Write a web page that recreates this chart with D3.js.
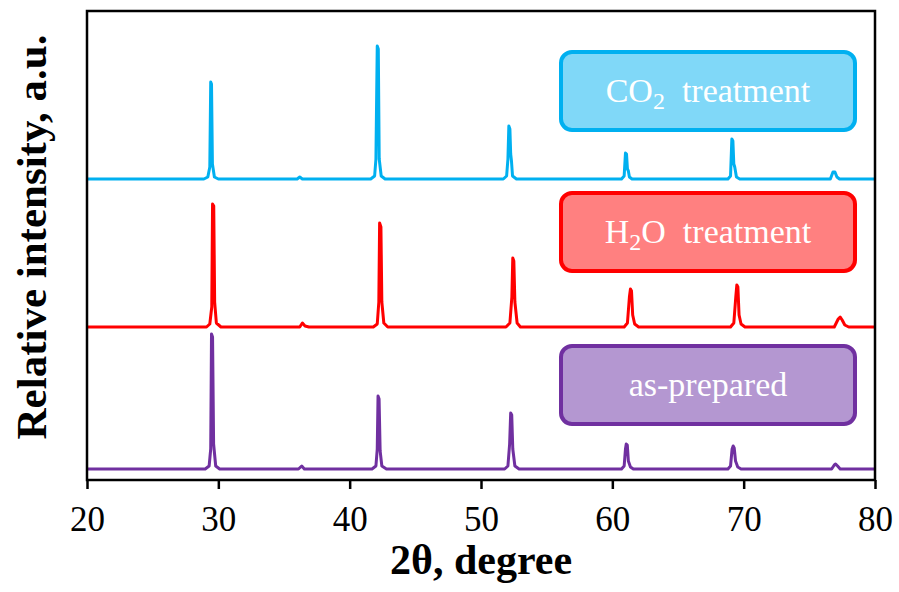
<!DOCTYPE html>
<html>
<head>
<meta charset="utf-8">
<script src="https://cdn.jsdelivr.net/npm/d3@7"></script>
<style>
  body { margin: 0; background: #fff; }
  text { font-family: "Liberation Serif", "Times New Roman", serif; }
</style>
</head>
<body>
<div id="wrapper"></div>
<script>
// XRD patterns, [2theta, intensity above own baseline]
const co2Pattern = [
  [20, 0], [28.9, 0], [29.2, 2], [29.35, 12], [29.42, 97], [29.48, 95], [29.55, 15], [29.7, 2], [30.0, 0],
  [36.0, 0], [36.2, 2], [36.4, 0],
  [41.6, 0], [41.9, 3], [42.0, 20], [42.1, 133], [42.18, 130], [42.25, 20], [42.4, 3], [42.7, 0],
  [51.7, 0], [51.95, 3], [52.05, 20], [52.12, 53], [52.2, 50], [52.26, 25], [52.32, 18], [52.4, 3], [52.7, 0],
  [60.7, 0], [60.9, 3], [61.0, 26], [61.08, 25], [61.15, 10], [61.22, 8], [61.3, 2], [61.5, 0],
  [68.8, 0], [69.0, 3], [69.1, 40], [69.18, 38], [69.25, 15], [69.32, 12], [69.45, 2], [69.7, 0],
  [76.6, 0], [76.8, 7], [76.95, 7], [77.1, 2], [77.3, 0],
  [80, 0]
]
const h2oPattern = [
  [20, 0], [29.1, 0], [29.35, 3], [29.5, 20], [29.56, 123], [29.65, 121], [29.72, 25], [29.85, 4], [30.2, 0],
  [36.2, 0], [36.4, 4], [36.6, 1], [36.9, 0],
  [41.8, 0], [42.1, 3], [42.22, 25], [42.28, 104], [42.38, 100], [42.45, 25], [42.6, 4], [42.9, 0],
  [51.9, 0], [52.2, 4], [52.35, 30], [52.42, 69], [52.5, 66], [52.58, 25], [52.75, 4], [53.0, 0],
  [60.9, 0], [61.15, 4], [61.3, 30], [61.38, 38], [61.46, 36], [61.55, 12], [61.7, 3], [62.0, 0],
  [69.0, 0], [69.25, 4], [69.4, 30], [69.48, 42], [69.56, 40], [69.65, 12], [69.8, 3], [70.1, 0],
  [76.9, 0], [77.2, 8], [77.35, 10], [77.5, 7], [77.7, 2], [78.0, 0],
  [80, 0]
]
const asPreparedPattern = [
  [20, 0], [29.0, 0], [29.3, 3], [29.42, 20], [29.48, 135], [29.56, 132], [29.64, 25], [29.8, 3], [30.1, 0],
  [36.1, 0], [36.35, 3], [36.55, 0],
  [41.7, 0], [42.0, 3], [42.1, 20], [42.16, 73], [42.24, 70], [42.32, 18], [42.45, 3], [42.8, 0],
  [51.8, 0], [52.05, 3], [52.18, 25], [52.26, 56], [52.34, 54], [52.42, 20], [52.58, 3], [52.9, 0],
  [60.7, 0], [60.9, 3], [61.0, 20], [61.06, 25], [61.14, 24], [61.22, 8], [61.38, 2], [61.6, 0],
  [68.8, 0], [69.0, 3], [69.12, 20], [69.2, 23], [69.28, 21], [69.38, 8], [69.55, 2], [69.8, 0],
  [76.7, 0], [76.9, 4], [77.0, 5], [77.15, 3], [77.35, 0],
  [80, 0]
]

// stacking offsets (same units as intensity)
const seriesNames = ["as-prepared", "H2O treatment", "CO2 treatment"]
const seriesOffsets = [11, 153, 301]
const xTicks = [20, 30, 40, 50, 60, 70, 80]

const colors = ["#7030A0", "#FF0000", "#00B0F0"]
const fills = ["#B497D1", "#FF8080", "#80D8F8"]

const dimensions = {
  width: 899,
  height: 592,
  margin: { top: 11, right: 24, bottom: 112, left: 87 },
}
dimensions.boundedWidth = dimensions.width - dimensions.margin.left - dimensions.margin.right
dimensions.boundedHeight = dimensions.height - dimensions.margin.top - dimensions.margin.bottom

const svg = d3.select("#wrapper")
  .append("svg")
  .attr("width", dimensions.width)
  .attr("height", dimensions.height)

const bounds = svg.append("g")
  .attr("transform", `translate(${dimensions.margin.left},${dimensions.margin.top})`)

const xScale = d3.scaleLinear()
  .domain([20, 80])
  .range([0, dimensions.boundedWidth])
const yScale = d3.scaleLinear()
  .domain([0, 469])
  .range([dimensions.boundedHeight, 0])

const patterns = [asPreparedPattern, h2oPattern, co2Pattern]

patterns.forEach((pat, i) => {
  const line = d3.line()
    .x(d => xScale(d[0]))
    .y(d => yScale(d[1] + seriesOffsets[i]))
  bounds.append("path")
    .datum(pat)
    .attr("d", line)
    .attr("fill", "none")
    .attr("stroke", colors[i])
    .attr("stroke-width", 3)
    .attr("stroke-linejoin", "round")
})

// legend boxes
const boxes = [
  { y: 346, main: ["as-prepared"] },
  { y: 193, main: ["H", "2", "O  treatment"] },
  { y: 52, main: ["CO", "2", "  treatment"] },
]
boxes.forEach((b, i) => {
  const g = svg.append("g")
  g.append("rect")
    .attr("x", 561).attr("y", b.y)
    .attr("width", 294).attr("height", 78)
    .attr("rx", 11)
    .attr("fill", fills[i])
    .attr("stroke", colors[i])
    .attr("stroke-width", 4)
  const t = g.append("text")
    .attr("x", 708).attr("y", b.y + 50)
    .attr("text-anchor", "middle")
    .attr("fill", "#fff")
    .attr("font-size", 34)
    .style("white-space", "pre")
  b.main.forEach((s, k) => {
    if (b.main.length === 3 && k === 1) {
      t.append("tspan").attr("font-size", 24).attr("dy", 7).text(s)
    } else if (b.main.length === 3 && k === 2) {
      t.append("tspan").attr("dy", -7).text(s)
    } else {
      t.append("tspan").text(s)
    }
  })
})

// x axis
const xAxis = d3.axisBottom(xScale)
  .tickValues(xTicks)
  .tickSize(9)
  .tickPadding(17)
const xAxisGroup = bounds.append("g")
  .attr("transform", `translate(0,${dimensions.boundedHeight})`)
  .call(xAxis)
xAxisGroup.select(".domain").remove()
xAxisGroup.selectAll("line").attr("stroke", "#000").attr("stroke-width", 2.5)
xAxisGroup.selectAll("text")
  .style("font-family", "'Liberation Serif', 'Times New Roman', serif")
  .attr("font-size", 35)
  .attr("fill", "#000")

// frame
bounds.append("rect")
  .attr("width", dimensions.boundedWidth)
  .attr("height", dimensions.boundedHeight)
  .attr("fill", "none")
  .attr("stroke", "#000")
  .attr("stroke-width", 2.5)

svg.append("text")
  .attr("x", dimensions.margin.left + dimensions.boundedWidth / 2)
  .attr("y", 574)
  .attr("text-anchor", "middle")
  .attr("font-size", 42)
  .attr("font-weight", "bold")
  .text("2θ, degree")

svg.append("text")
  .attr("transform", "translate(46,237) rotate(-90)")
  .attr("text-anchor", "middle")
  .attr("font-size", 43)
  .attr("font-weight", "bold")
  .text("Relative intensity, a.u.")
</script>
</body>
</html>
